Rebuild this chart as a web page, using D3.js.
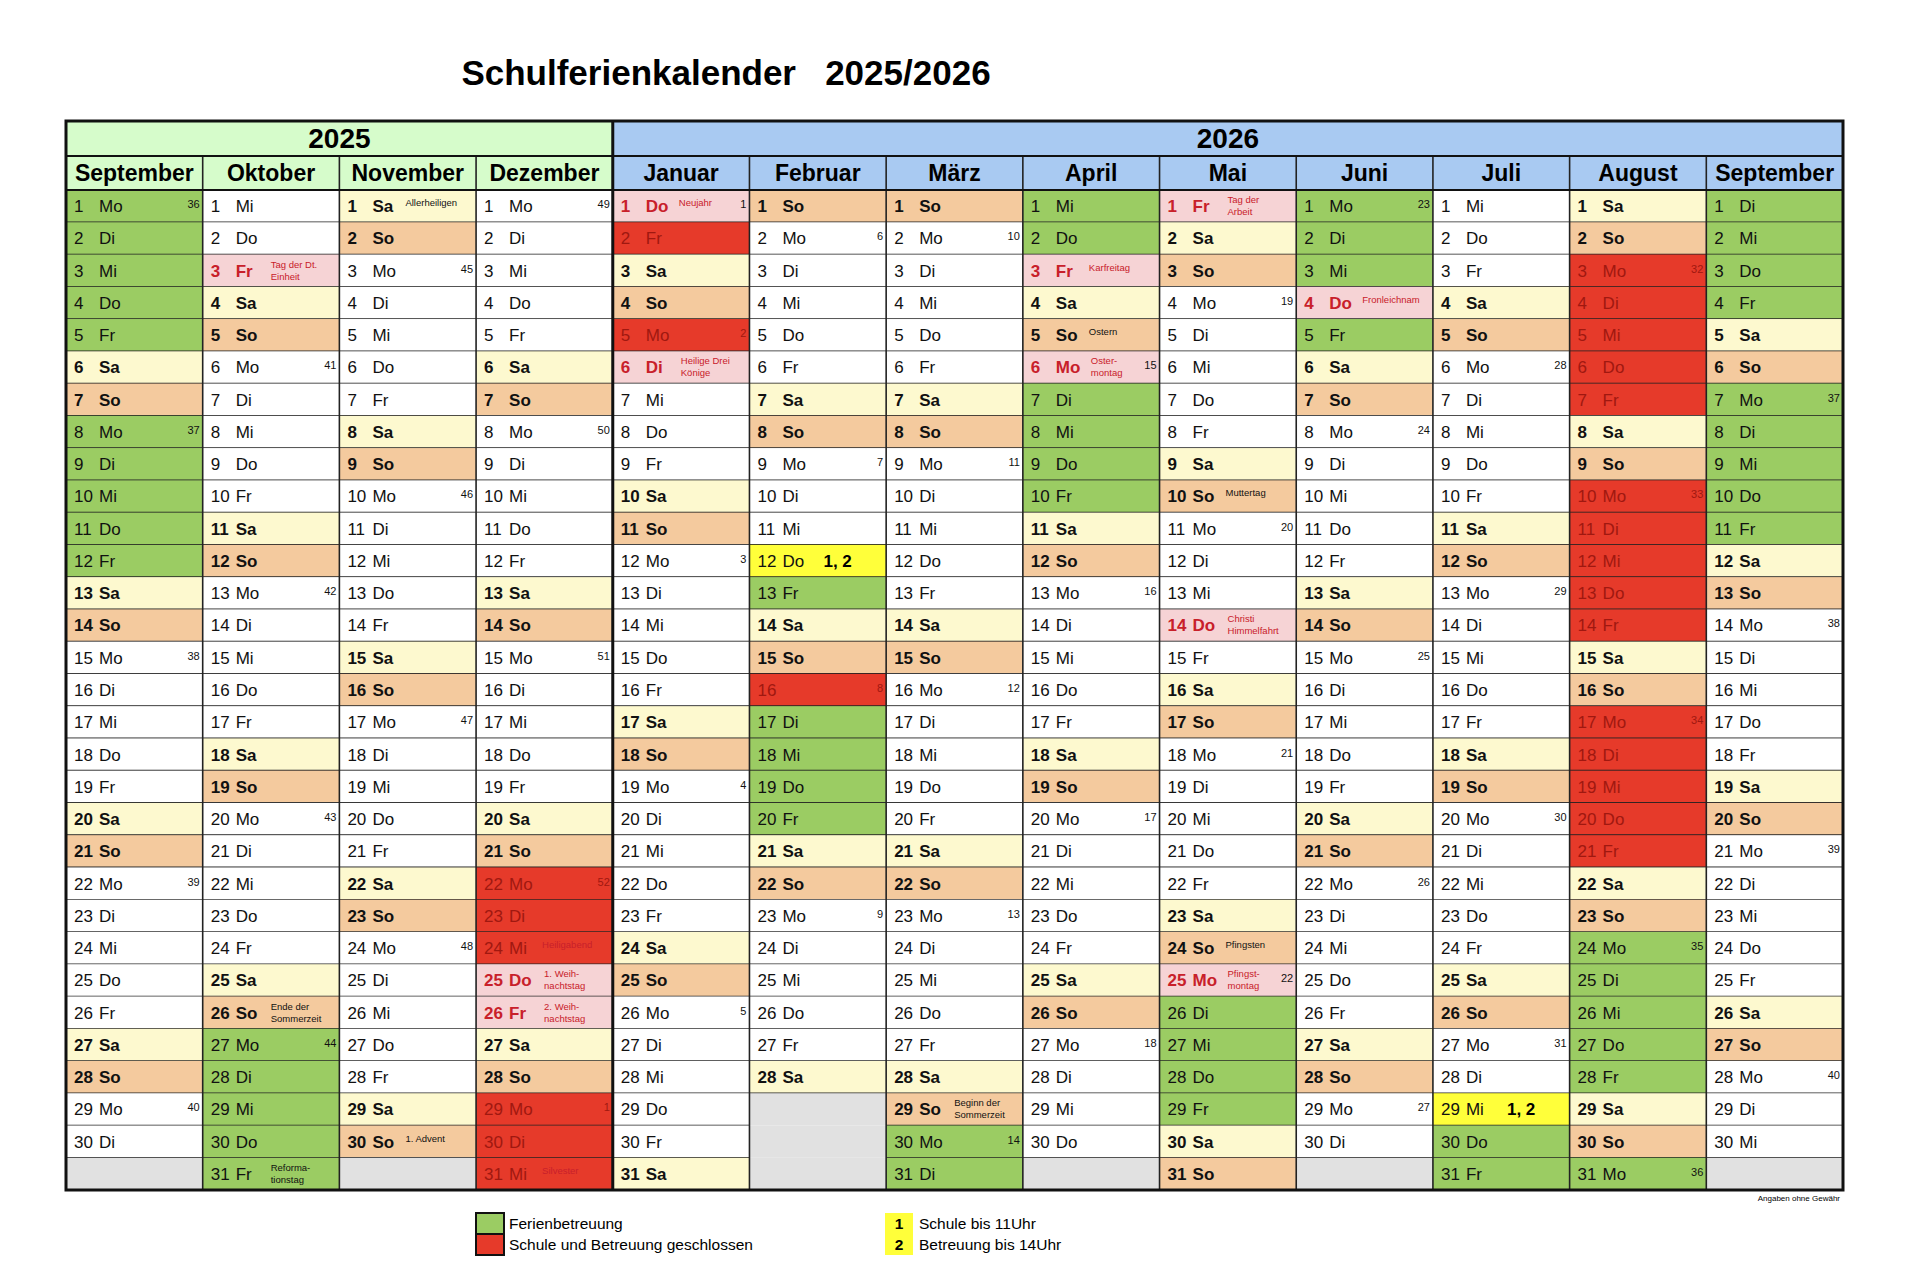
<!DOCTYPE html>
<html><head><meta charset="utf-8">
<script src="https://cdn.jsdelivr.net/npm/d3@7"></script>
<style>body{margin:0;background:#fff}svg{font-family:Arial,"Liberation Sans",sans-serif}</style>
</head><body><svg id="c" width="1920" height="1280"></svg>
<script>
const months = ["2025-9","2025-10","2025-11","2025-12","2026-1","2026-2","2026-3","2026-4","2026-5","2026-6","2026-7","2026-8","2026-9"];
const monthNames = ["September","Oktober","November","Dezember","Januar","Februar","März","April","Mai","Juni","Juli","August","September"];
const years = [{label:"2025",from:0,to:3},{label:"2026",from:4,to:12}];
const weekdays = ["So","Mo","Di","Mi","Do","Fr","Sa"];
const greenDays = {
 "2025-9":[1,2,3,4,5,8,9,10,11,12], "2025-10":[27,28,29,30,31],
 "2026-2":[13,17,18,19,20], "2026-3":[30,31], "2026-4":[1,2,7,8,9,10],
 "2026-5":[26,27,28,29], "2026-6":[1,2,3,5], "2026-7":[30,31],
 "2026-8":[24,25,26,27,28,31], "2026-9":[1,2,3,4,7,8,9,10,11]
};
const redDays = {
 "2025-12":[22,23,24,29,30,31], "2026-1":[2,5], "2026-2":[16],
 "2026-8":[3,4,5,6,7,10,11,12,13,14,17,18,19,20,21]
};
const yellowDays = {"2026-2":[12], "2026-7":[29]};
const noWeekday = ["2026-2-16"];
const holidays = {
 "2025-10-3":"Tag der Dt.|Einheit","2025-12-25":"1. Weih-|nachtstag","2025-12-26":"2. Weih-|nachtstag",
 "2026-1-1":"Neujahr","2026-1-6":"Heilige Drei|Könige","2026-4-3":"Karfreitag","2026-4-6":"Oster-|montag",
 "2026-5-1":"Tag der|Arbeit","2026-5-14":"Christi|Himmelfahrt","2026-5-25":"Pfingst-|montag","2026-6-4":"Fronleichnam"
};
const notes = {
 "2025-11-1":"Allerheiligen","2025-10-26":"Ende der|Sommerzeit","2025-10-31":"Reforma-|tionstag",
 "2025-11-30":"1. Advent","2025-12-24":"Heiligabend","2025-12-31":"Silvester","2026-3-29":"Beginn der|Sommerzeit",
 "2026-4-5":"Ostern","2026-5-10":"Muttertag","2026-5-24":"Pfingsten"
};
const legendLeft = [{c:"#9bcc63",t:"Ferienbetreuung"},{c:"#e63a2a",t:"Schule und Betreuung geschlossen"}];
const legendRight = [{n:"1",t:"Schule bis 11Uhr"},{n:"2",t:"Betreuung bis 14Uhr"}];

const COL = {green:"#9bcc63",red:"#e63a2a",sa:"#fdf9cf",so:"#f4ca9e",hol:"#f6d3d5",gray:"#e1e1e1",yellow:"#ffff3a",white:"#ffffff"};
const svg = d3.select("#c");
const L=66,R=1843,T0=121,T1=156,T2=190,B=1190;
const x = d3.scaleBand().domain(months).range([L,R]);
const y = d3.scaleBand().domain(d3.range(1,32)).range([T2,B]);
const wk = d3.timeFormat("%V");

svg.append("text").attr("x",726).attr("y",85).attr("text-anchor","middle").attr("font-size",35).attr("font-weight","bold")
 .attr("xml:space","preserve").text("Schulferienkalender   2025/2026");

// year headers
years.forEach(yr=>{
 const x0=x(months[yr.from]), x1=x(months[yr.to])+x.bandwidth();
 svg.append("rect").attr("x",x0).attr("y",T0).attr("width",x1-x0).attr("height",T2-T0).attr("fill",yr.label==="2025"?"#d6fccb":"#a9caf2");
 svg.append("text").attr("x",(x0+x1)/2).attr("y",T1-8).attr("text-anchor","middle").attr("font-size",28).attr("font-weight","bold").text(yr.label);
});
months.forEach((m,i)=>{
 svg.append("text").attr("x",x(m)+x.bandwidth()/2).attr("y",T2-9).attr("text-anchor","middle").attr("font-size",23).attr("font-weight","bold").text(monthNames[i]);
});

const cells=[];
months.forEach(m=>{
 const [Y,M]=m.split("-").map(Number);
 for(let d=1;d<=31;d++){
  const dt=new Date(Y,M-1,d);
  const valid=dt.getMonth()===M-1;
  const key=m+"-"+d;
  let type="white";
  if(!valid) type="gray";
  else if(holidays[key]) type="hol";
  else if((redDays[m]||[]).includes(d)) type="red";
  else if((yellowDays[m]||[]).includes(d)) type="yellow";
  else if((greenDays[m]||[]).includes(d)) type="green";
  else if(dt.getDay()===6) type="sa";
  else if(dt.getDay()===0) type="so";
  cells.push({m,d,dt,valid,key,type,wd:dt.getDay()});
 }
});

const g=svg.append("g");
const cg=g.selectAll("g.cell").data(cells).join("g").attr("transform",c=>`translate(${x(c.m)},${y(c.d)})`);
cg.append("rect").attr("width",x.bandwidth()).attr("height",y.bandwidth()).attr("fill",c=>COL[c.type]);
// horizontal lines for valid cells
cg.filter(c=>c.valid).append("line").attr("x1",0).attr("x2",x.bandwidth()).attr("y1",y.bandwidth()).attr("y2",y.bandwidth()).attr("stroke","#222").attr("stroke-width",1.6);
cg.filter(c=>c.valid && c.d===1).append("line").attr("x1",0).attr("x2",x.bandwidth()).attr("y1",0).attr("y2",0).attr("stroke","#222").attr("stroke-width",1.6);

const v=cg.filter(c=>c.valid);
const txtCol=c=>c.type==="hol"?"#c8202a":(c.type==="red"?"#a01810":"#111");
const isBold=c=>c.type==="hol"||c.type==="sa"||c.type==="so"||(c.wd===0||c.wd===6);
const yb=y.bandwidth()/2+6;
v.append("text").attr("x",8).attr("y",yb).attr("font-size",17).attr("fill",txtCol).attr("font-weight",c=>isBold(c)?"bold":"normal").text(c=>c.d);
v.filter(c=>!noWeekday.includes(c.key)).append("text").attr("x",33).attr("y",yb).attr("font-size",17).attr("fill",txtCol).attr("font-weight",c=>isBold(c)?"bold":"normal").text(c=>weekdays[c.wd]);
v.filter(c=>c.type==="yellow").append("text").attr("x",74).attr("y",yb).attr("font-size",17).attr("font-weight","bold").text("1, 2");
v.filter(c=>c.wd===1||(c.d===1&&c.m==="2026-1")).append("text").attr("x",x.bandwidth()-3).attr("y",yb-4).attr("text-anchor","end").attr("font-size",11).attr("fill",c=>c.type==="red"?"#a01810":"#111").text(c=>+wk(c.dt));
v.filter(c=>holidays[c.key]||notes[c.key]).each(function(c){
 const t=(holidays[c.key]||notes[c.key]).split("|");
 const col=(c.type==="hol"||c.type==="red")?"#c8202a":"#111";
 const el=d3.select(this).append("text").attr("font-size",9.5).attr("fill",col);
 const xx = t.length>1?68:66;
 if(t.length===1) el.append("tspan").attr("x",xx).attr("y",yb-6).text(t[0]);
 else t.forEach((s,i)=>el.append("tspan").attr("x",xx).attr("y",yb-9+i*12).text(s));
});

// vertical lines
months.forEach(m=>{
 svg.append("line").attr("x1",x(m)).attr("x2",x(m)).attr("y1",T1).attr("y2",B).attr("stroke","#222").attr("stroke-width",1.6);
});
svg.append("line").attr("x1",x(months[4])).attr("x2",x(months[4])).attr("y1",T0).attr("y2",B).attr("stroke","#111").attr("stroke-width",3);
[T1,T2].forEach(yy=>svg.append("line").attr("x1",L).attr("x2",R).attr("y1",yy).attr("y2",yy).attr("stroke","#111").attr("stroke-width",2));
svg.append("rect").attr("x",L).attr("y",T0).attr("width",R-L).attr("height",B-T0).attr("fill","none").attr("stroke","#111").attr("stroke-width",3);

svg.append("text").attr("x",R-3).attr("y",B+11).attr("text-anchor","end").attr("font-size",8).text("Angaben ohne Gewähr");

// legend
legendLeft.forEach((l,i)=>{
 svg.append("rect").attr("x",476).attr("y",1213+i*21).attr("width",28).attr("height",21).attr("fill",l.c).attr("stroke","#111").attr("stroke-width",2);
 svg.append("text").attr("x",509).attr("y",1229+i*21).attr("font-size",15.5).text(l.t);
});
legendRight.forEach((l,i)=>{
 svg.append("rect").attr("x",885).attr("y",1213+i*21).attr("width",28).attr("height",21).attr("fill","#ffff3a");
 svg.append("text").attr("x",899).attr("y",1229+i*21).attr("text-anchor","middle").attr("font-size",15.5).attr("font-weight","bold").text(l.n);
 svg.append("text").attr("x",919).attr("y",1229+i*21).attr("font-size",15.5).text(l.t);
});
</script></body></html>
